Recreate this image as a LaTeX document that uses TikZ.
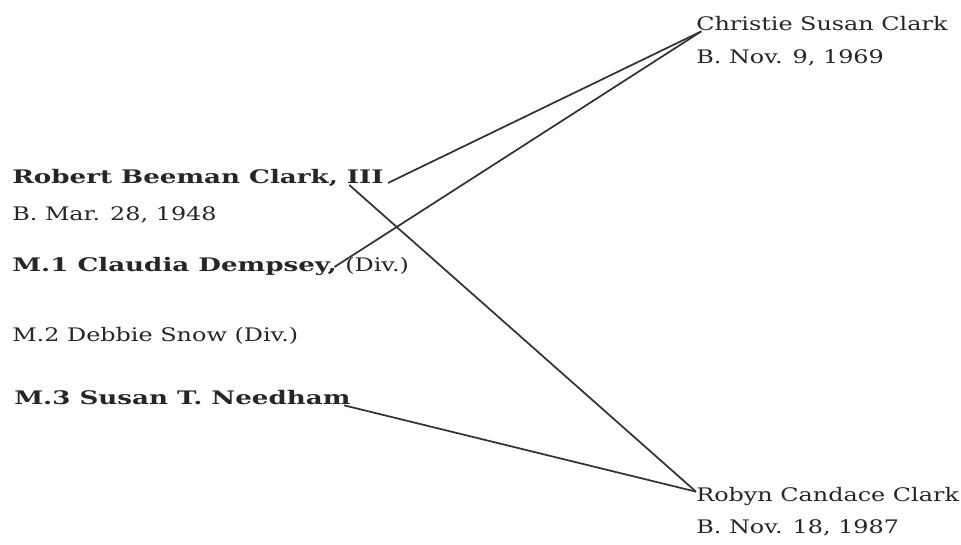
\documentclass[tikz,border=0pt]{standalone}
\usepackage{fontspec}
\setmainfont{DejaVu Serif}[FakeStretch=1.28]
\newfontfamily\boldwide{DejaVu Serif}[FakeStretch=1.4]
\begin{document}
\begin{tikzpicture}[x=0.75pt,y=-0.75pt,
  every node/.style={inner sep=0pt,anchor=base west,text=black!85},
  person/.style={font=\boldwide\fontsize{14}{16}\selectfont\bfseries},
  info/.style={font=\fontsize{14}{16}\selectfont},
  link/.style={draw=black!80,line width=1.3pt}]
\useasboundingbox (0,0) rectangle (961,544);
% father and wives
\node[person] (R) at (12,183) {Robert Beeman Clark, III};
\node[info] (Rb) at (12,220) {B. Mar. 28, 1948};
\node[person] (M1) at (12,271) {M.1 Claudia Dempsey,};
\node[info] (M1d) at ([xshift=6]M1.base east) {(Div.)};
\node[info] (M2) at (12,341) {M.2 Debbie Snow (Div.)};
\node[person] (M3) at (14,404) {M.3 Susan T. Needham};
% children
\node[info] (C) at (696,30) {Christie Susan Clark};
\node[info] (Cb) at (696,63) {B. Nov. 9, 1969};
\node[info] (D) at (696,501) {Robyn Candace Clark};
\node[info] (Db) at (696,533) {B. Nov. 18, 1987};
\coordinate (III) at ([xshift=-26,yshift=-1.5]R.base east);
\draw[link] ([xshift=3,yshift=0]R.base east) -- ([xshift=4,yshift=-1]C.base west);
\draw[link] ([xshift=-2,yshift=3]M1.base east) -- ([xshift=4,yshift=-1]C.base west);
\draw[link] (III) -- ([yshift=7]D.base west);
\draw[link] ([xshift=-5,yshift=-1]M3.base east) -- ([yshift=7]D.base west);
\end{tikzpicture}
\end{document}
